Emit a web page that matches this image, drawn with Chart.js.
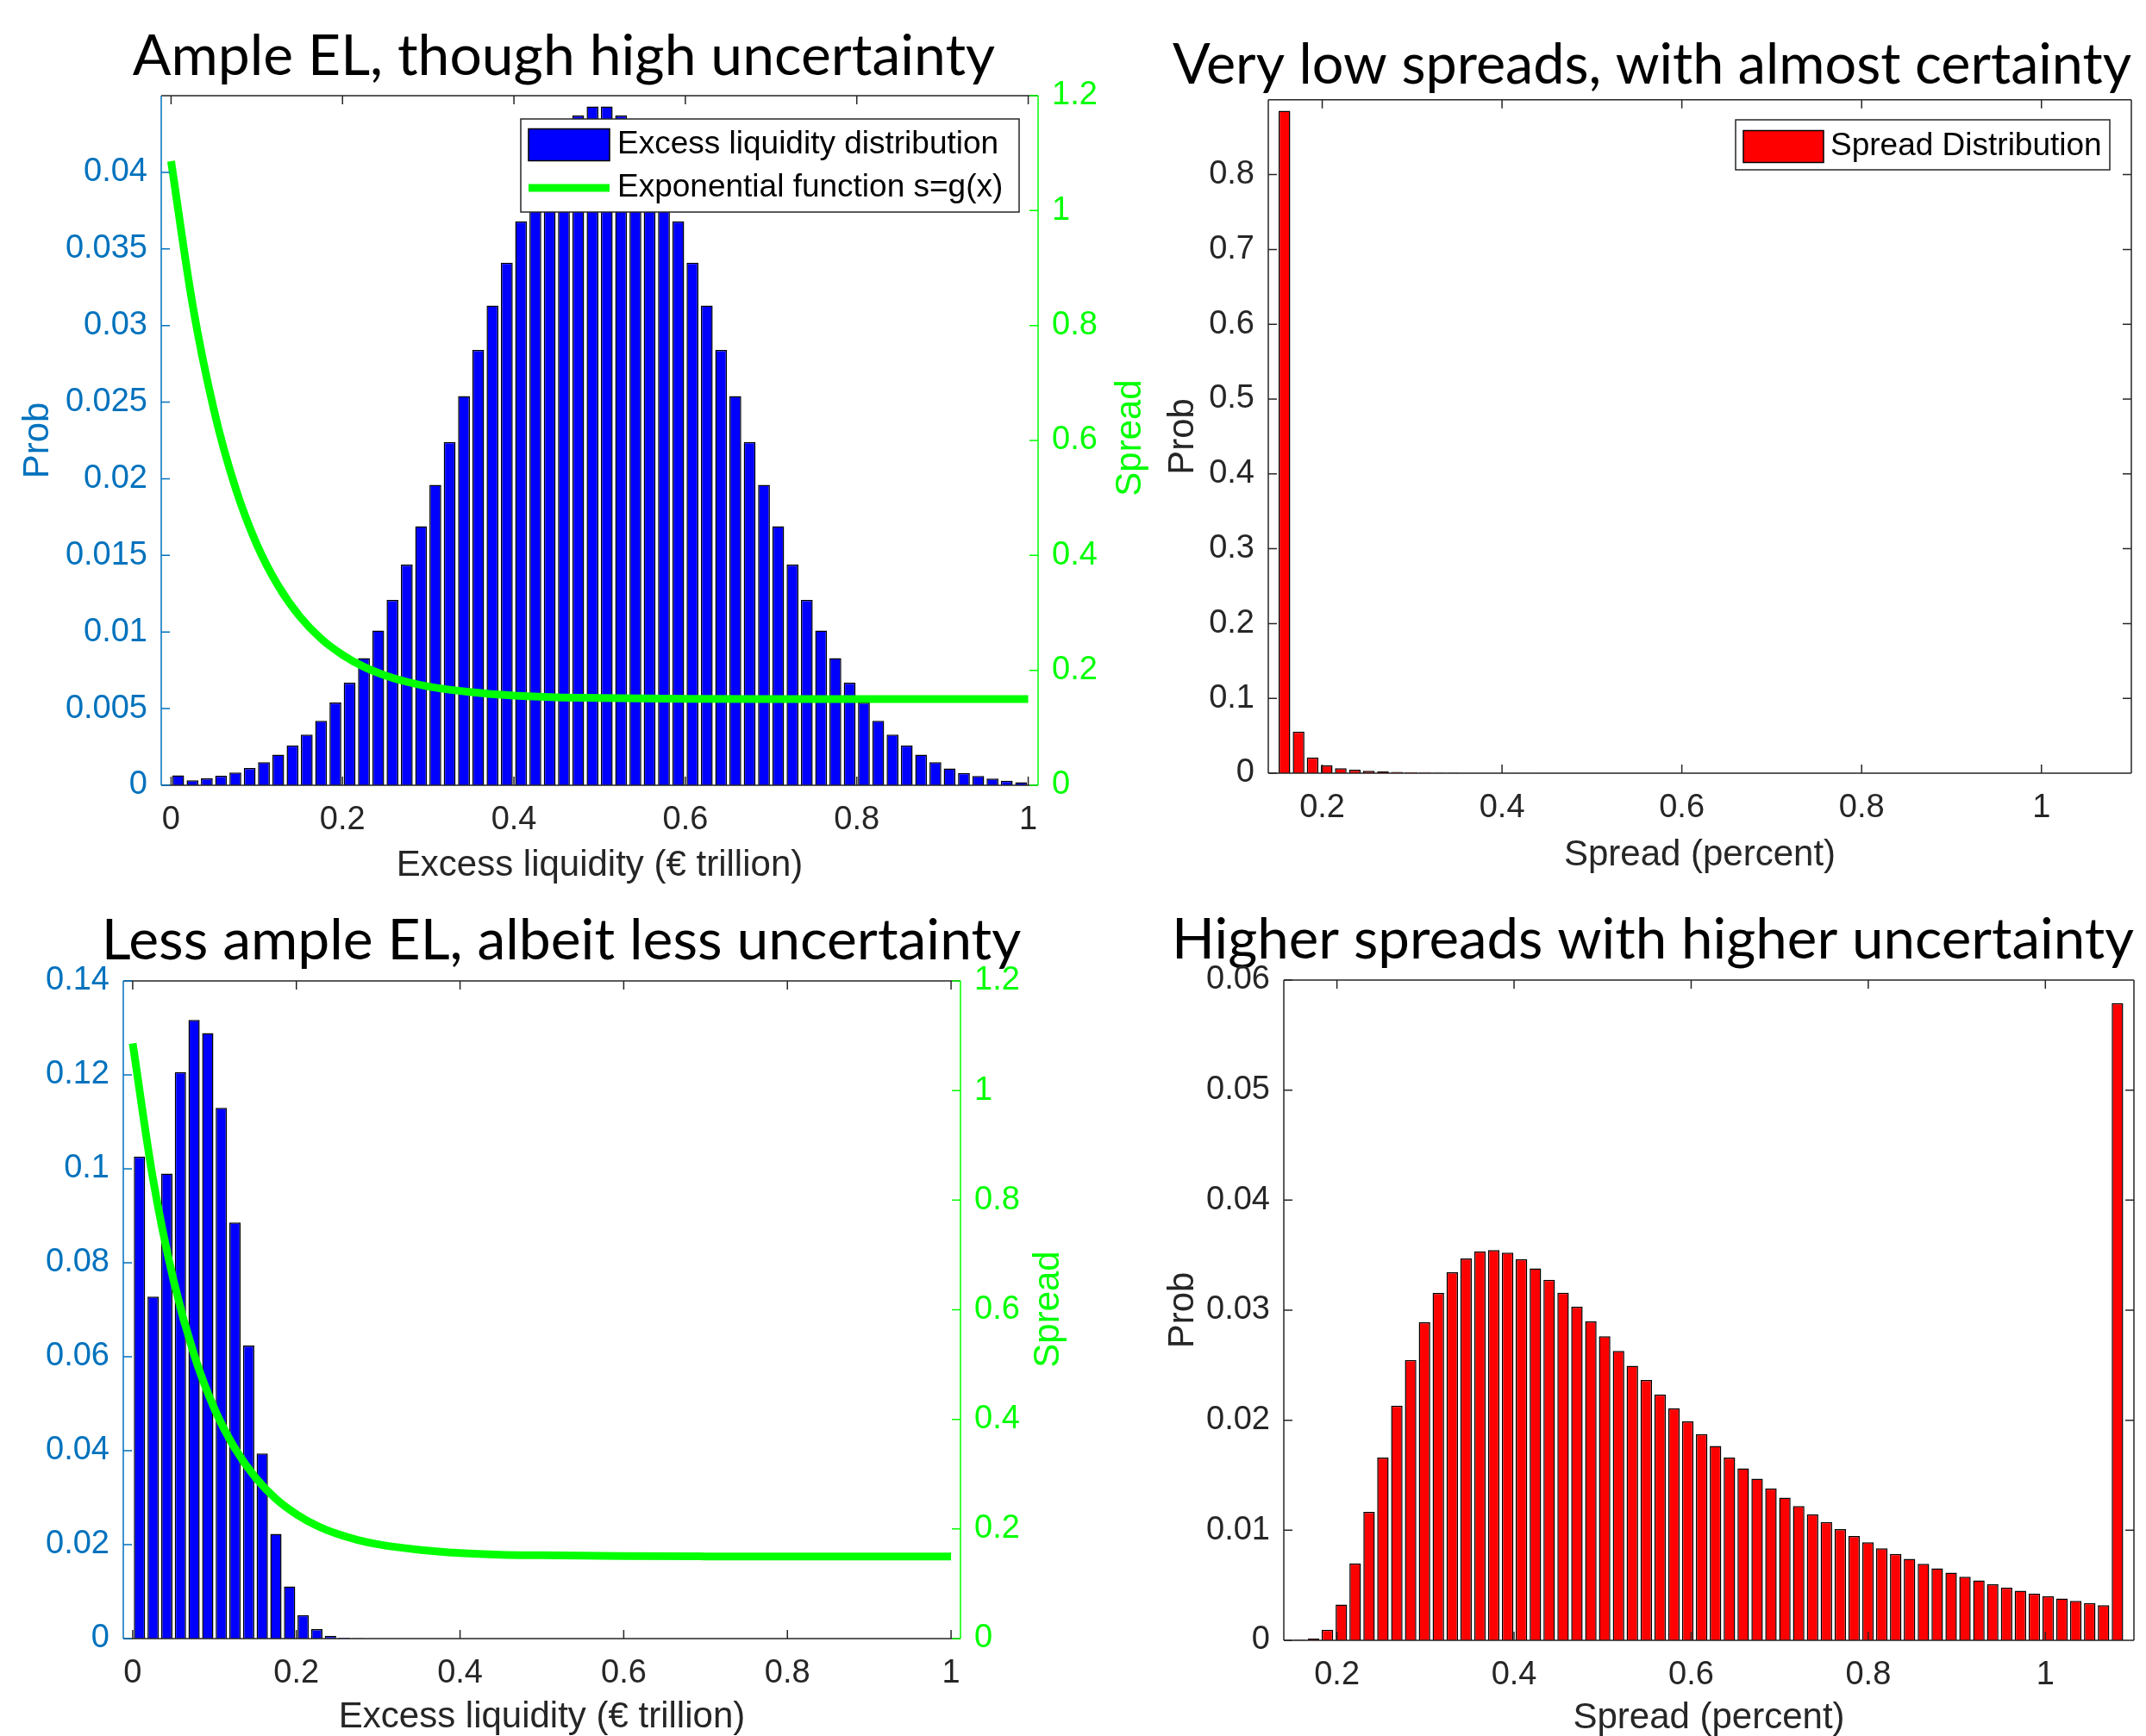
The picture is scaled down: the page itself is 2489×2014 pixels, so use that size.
<!DOCTYPE html>
<html><head><meta charset="utf-8">
<script src="https://cdn.jsdelivr.net/npm/chart.js@4.4.1/dist/chart.umd.min.js"></script>
<style>
html,body{margin:0;padding:0;background:#fff;}
body{width:2489px;height:2014px;position:relative;overflow:hidden;}
canvas{position:absolute;}
</style></head><body>
<canvas id="c1" width="1340" height="1040" style="left:0px;top:0px;width:1340px;height:1040px"></canvas>
<canvas id="c2" width="1149" height="1040" style="left:1340px;top:0px;width:1149px;height:1040px"></canvas>
<canvas id="c3" width="1340" height="974" style="left:0px;top:1040px;width:1340px;height:974px"></canvas>
<canvas id="c4" width="1149" height="974" style="left:1340px;top:1040px;width:1149px;height:974px"></canvas>
<script>
// ---------------- DATA ----------------
// histogram bin centres, excess liquidity (€ trillion)
const elBinCenters = [0.0083,0.0250,0.0417,0.0583,0.0750,0.0917,0.1083,0.1250,0.1417,0.1583,
  0.1750,0.1917,0.2083,0.2250,0.2417,0.2583,0.2750,0.2917,0.3083,0.3250,
  0.3417,0.3583,0.3750,0.3917,0.4083,0.4250,0.4417,0.4583,0.4750,0.4917,
  0.5083,0.5250,0.5417,0.5583,0.5750,0.5917,0.6083,0.6250,0.6417,0.6583,
  0.6750,0.6917,0.7083,0.7250,0.7417,0.7583,0.7750,0.7917,0.8083,0.8250,
  0.8417,0.8583,0.8750,0.8917,0.9083,0.9250,0.9417,0.9583,0.9750,0.9917];
// histogram bin centres, spread (percent)
const spreadBinCenters = [0.1580,0.1737,0.1893,0.2050,0.2206,0.2363,0.2519,0.2676,0.2832,0.2989,
  0.3145,0.3302,0.3458,0.3615,0.3771,0.3928,0.4084,0.4241,0.4397,0.4554,
  0.4710,0.4867,0.5023,0.5180,0.5336,0.5493,0.5649,0.5806,0.5962,0.6119,
  0.6275,0.6432,0.6588,0.6745,0.6901,0.7058,0.7214,0.7371,0.7527,0.7684,
  0.7840,0.7997,0.8153,0.8310,0.8466,0.8623,0.8779,0.8936,0.9092,0.9249,
  0.9405,0.9562,0.9718,0.9875,1.0031,1.0188,1.0344,1.0501,1.0657,1.0814];
// panel 1: ample EL, high uncertainty
const ampleELProb = [0.00064,0.00032,0.00045,0.00062,0.00083,0.00113,0.0015,0.0020,0.0026,0.0033,
  0.0042,0.0054,0.0067,0.0083,0.0101,0.0121,0.0144,0.0169,0.0196,0.0224,
  0.0254,0.0284,0.0313,0.0341,0.0368,0.0390,0.0411,0.0427,0.0437,0.0443,
  0.0443,0.0437,0.0427,0.0411,0.0390,0.0368,0.0341,0.0313,0.0284,0.0254,
  0.0224,0.0196,0.0169,0.0144,0.0121,0.0101,0.0083,0.0067,0.0054,0.0042,
  0.0033,0.0026,0.0020,0.0015,0.0011,0.0008,0.0006,0.00043,0.0003,0.0002];
// panel 2: spreads implied by panel 1
const lowSpreadProb = [0.8855,0.0556,0.0211,0.0107,0.0065,0.0046,0.0031,0.0023,0.0016,0.0012,
  0.0009,0.0007,0.0005,0.0004,0.0003,0.0003,0.0002,0.0002,0.0001,0.0001,
  0.0001,0.0001,0.0001,0.0001,0.0001,0,0,0,0,0,
  0,0,0,0,0,0,0,0,0,0,
  0,0,0,0,0,0,0,0,0,0,
  0,0,0,0,0,0,0,0,0,0];
// panel 3: less ample EL, less uncertainty
const lessAmpleELProb = [0.1026,0.0728,0.0990,0.1206,0.1317,0.1289,0.1130,0.0886,0.0624,0.0394,
  0.0223,0.0111,0.0050,0.0020,0.0006,0.0002,0.0001,0,0,0,
  0,0,0,0,0,0,0,0,0,0,
  0,0,0,0,0,0,0,0,0,0,
  0,0,0,0,0,0,0,0,0,0,
  0,0,0,0,0,0,0,0,0,0];
// panel 4: spreads implied by panel 3
const highSpreadProb = [0.00005,0.00015,0.00096,0.00326,0.0070,0.01167,0.01661,0.02133,0.02547,0.02891,
  0.03156,0.03344,0.03469,0.03534,0.03547,0.03523,0.03464,0.0338,0.03276,0.03159,
  0.03031,0.02898,0.02763,0.0263,0.02495,0.02365,0.02234,0.02109,0.0199,0.01875,
  0.01766,0.01661,0.01563,0.01469,0.0138,0.01297,0.01219,0.01146,0.01076,0.0101,
  0.00948,0.00891,0.00836,0.00786,0.0074,0.00695,0.00654,0.00615,0.00578,0.00544,
  0.0051,0.00479,0.0045,0.00424,0.00401,0.0038,0.00359,0.00339,0.0032,0.0579];
// exponential function s = g(x)
const gX = [0,0.025,0.05,0.075,0.1,0.125,0.15,0.175,0.2,0.225,0.25,0.275,0.3,0.35,0.4,0.45,0.5,0.6,0.7,0.8,0.9,1.0];
const gS = [1.086,0.837,0.653,0.518,0.419,0.347,0.294,0.255,0.227,0.206,0.191,0.180,0.172,0.162,0.156,0.153,0.152,0.1505,0.150,0.150,0.150,0.150];
// tick values
const elXTicks = [0,0.2,0.4,0.6,0.8,1];
const spreadXTicks = [0.2,0.4,0.6,0.8,1];
const p1YTicks = [0,0.005,0.01,0.015,0.02,0.025,0.03,0.035,0.04];
const p2YTicks = [0,0.1,0.2,0.3,0.4,0.5,0.6,0.7,0.8];
const p3YTicks = [0,0.02,0.04,0.06,0.08,0.1,0.12,0.14];
const p4YTicks = [0,0.01,0.02,0.03,0.04,0.05,0.06];
const spreadAxisTicks = [0,0.2,0.4,0.6,0.8,1,1.2];

// ---------------- RENDERING ----------------
Chart.defaults.font.family = "'Liberation Sans', Arial, sans-serif";
Chart.defaults.color = '#262626';

const DARK = '#262626', MBLUE = '#0072BD', GREEN = '#00FF00';
const TICK_SIZE = 38, LABEL_SIZE = 42, TITLE_SIZE = 66, LEGEND_SIZE = 37;

const matlabAxes = {
  id: 'matlabAxes',
  afterDatasetsDraw(chart, args, o) {
    const ctx = chart.ctx, a = chart.chartArea;
    const sx = chart.scales.x, sy = chart.scales.y, sy2 = chart.scales.y2;
    const tl = 10;
    ctx.save();
    ctx.lineWidth = 1.5;
    ctx.strokeStyle = DARK;
    ctx.beginPath();
    ctx.moveTo(a.left, a.bottom); ctx.lineTo(a.right, a.bottom);
    ctx.moveTo(a.left, a.top); ctx.lineTo(a.right, a.top);
    sx.ticks.forEach(t => {
      const p = sx.getPixelForValue(t.value);
      ctx.moveTo(p, a.bottom); ctx.lineTo(p, a.bottom - tl);
      ctx.moveTo(p, a.top); ctx.lineTo(p, a.top + tl);
    });
    if (!sy2) {
      ctx.moveTo(a.right, a.top); ctx.lineTo(a.right, a.bottom);
      sy.ticks.forEach(t => { const p = sy.getPixelForValue(t.value); ctx.moveTo(a.right, p); ctx.lineTo(a.right - tl, p); });
    }
    ctx.stroke();
    ctx.strokeStyle = o.yColor;
    ctx.beginPath();
    ctx.moveTo(a.left, a.top); ctx.lineTo(a.left, a.bottom);
    sy.ticks.forEach(t => { const p = sy.getPixelForValue(t.value); ctx.moveTo(a.left, p); ctx.lineTo(a.left + tl, p); });
    ctx.stroke();
    if (sy2) {
      ctx.strokeStyle = GREEN;
      ctx.beginPath();
      ctx.moveTo(a.right, a.top); ctx.lineTo(a.right, a.bottom);
      sy2.ticks.forEach(t => { const p = sy2.getPixelForValue(t.value); ctx.moveTo(a.right, p); ctx.lineTo(a.right - tl, p); });
      ctx.stroke();
    }
    if (o.rightLabel) {
      ctx.save();
      ctx.translate(o.rightLabel.x, o.rightLabel.y);
      ctx.rotate(-Math.PI / 2);
      ctx.font = LABEL_SIZE + "px 'Liberation Sans'";
      ctx.fillStyle = GREEN; ctx.textAlign = 'center'; ctx.textBaseline = 'middle';
      ctx.fillText(o.rightLabel.text, 0, 0);
      ctx.restore();
    }
    if (o.legend) {
      const L = o.legend;
      ctx.fillStyle = '#ffffff'; ctx.fillRect(L.x, L.y, L.w, L.h);
      ctx.strokeStyle = DARK; ctx.lineWidth = 1.5; ctx.strokeRect(L.x, L.y, L.w, L.h);
      chart.data.datasets.forEach((ds, i) => {
        const ry = L.rows[i];
        if (ds.type === 'bar') {
          ctx.fillStyle = ds.backgroundColor;
          ctx.fillRect(L.sx, ry - L.sh / 2, L.sw, L.sh);
          ctx.strokeStyle = '#000'; ctx.lineWidth = 1.5;
          ctx.strokeRect(L.sx, ry - L.sh / 2, L.sw, L.sh);
        } else {
          ctx.strokeStyle = ds.borderColor; ctx.lineWidth = ds.borderWidth;
          ctx.beginPath(); ctx.moveTo(L.sx, ry); ctx.lineTo(L.sx + L.sw, ry); ctx.stroke();
        }
        ctx.fillStyle = '#000'; ctx.font = LEGEND_SIZE + "px 'Liberation Sans'";
        ctx.textAlign = 'left'; ctx.textBaseline = 'middle';
        ctx.fillText(ds.label, L.tx, ry);
      });
    }
    ctx.restore();
  }
};

function setTicks(arr) { return s => { s.ticks = arr.map(v => ({ value: v })); }; }

function makeChart(id, c) {
  const datasets = [{
    type: 'bar', label: c.barLabel,
    data: c.centers.map((x, i) => ({ x: x, y: c.probs[i] })),
    backgroundColor: c.barColor, borderColor: '#000000', borderWidth: 1.5,
    barPercentage: 0.83, categoryPercentage: 1.0, yAxisID: 'y', order: 2
  }];
  if (c.line) {
    datasets.push({
      type: 'line', label: c.line,
      data: gX.map((x, i) => ({ x: x, y: gS[i] })),
      borderColor: GREEN, borderWidth: 9, pointRadius: 0, fill: false,
      cubicInterpolationMode: 'monotone', yAxisID: 'y2', order: 1
    });
  }
  const scales = {
    x: {
      type: 'linear', min: c.xMin, max: c.xMax, offset: false,
      afterBuildTicks: setTicks(c.xTicks), afterFit: s => { s.height = c.xH; },
      grid: { display: false, drawTicks: false }, border: { display: false },
      ticks: { color: DARK, font: { size: TICK_SIZE }, padding: 18, maxRotation: 0, autoSkip: false, callback: v => String(v) },
      title: { display: true, text: c.xTitle, color: DARK, font: { size: LABEL_SIZE }, padding: { top: 0, bottom: c.xTitlePad - 1.6 } }
    },
    y: {
      type: 'linear', position: 'left', min: 0, max: c.yMax,
      afterBuildTicks: setTicks(c.yTicks), afterFit: s => { s.width = c.yW; },
      grid: { display: false, drawTicks: false }, border: { display: false },
      ticks: { color: c.yColor, font: { size: TICK_SIZE }, padding: 16, autoSkip: false, callback: v => String(v) },
      title: { display: !!c.yTitle, text: c.yTitle || '', color: c.yColor, font: { size: LABEL_SIZE }, padding: { top: (c.yTitlePad || 0) - 0.6, bottom: 0 } }
    }
  };
  if (c.line) {
    scales.y2 = {
      type: 'linear', position: 'right', min: 0, max: 1.2,
      afterBuildTicks: setTicks(spreadAxisTicks), afterFit: s => { s.width = c.y2W; },
      grid: { display: false, drawTicks: false }, border: { display: false },
      ticks: { color: GREEN, font: { size: TICK_SIZE }, padding: 16, autoSkip: false, callback: v => String(v) },
      title: { display: false }
    };
  }
  return new Chart(document.getElementById(id), {
    type: 'bar',
    data: { datasets: datasets },
    options: {
      responsive: false, animation: false, devicePixelRatio: 1,
      layout: { padding: { left: c.padL, right: c.padR, top: 0, bottom: 0 } },
      scales: scales,
      plugins: {
        legend: { display: false }, tooltip: { enabled: false },
        title: { display: true, text: c.title, color: '#000000',
          font: { family: 'Lato', size: TITLE_SIZE, weight: 'normal', lineHeight: 1.2 },
          padding: { top: c.titlePadT - 1.8, bottom: c.titlePadB - 1.8 } },
        matlabAxes: { yColor: c.yColor, rightLabel: c.rightLabel, legend: c.legend }
      }
    },
    plugins: [matlabAxes]
  });
}

makeChart('c1', {
  title: 'Ample EL, though high uncertainty', titlePadT: 28, titlePadB: 7.4,
  centers: elBinCenters, probs: ampleELProb, barColor: '#0000FF',
  barLabel: 'Excess liquidity distribution', line: 'Exponential function s=g(x)',
  xMin: -0.0115, xMax: 1.0115, xTicks: elXTicks, xTitle: 'Excess liquidity (€ trillion)', xH: 129, xTitlePad: 12.4,
  yMax: 0.045, yTicks: p1YTicks, yColor: MBLUE, yTitle: 'Prob', yTitlePad: 19.4, yW: 187, y2W: 104,
  padL: 0, padR: 32,
  rightLabel: { text: 'Spread', x: 1311, y: 508 },
  legend: { x: 604, y: 138, w: 578, h: 108, sx: 613, sw: 94, sh: 37, tx: 716, rows: [168, 218] }
});
makeChart('c2', {
  title: 'Very low spreads, with almost certainty', titlePadT: 38.4, titlePadB: 1.8,
  centers: spreadBinCenters, probs: lowSpreadProb, barColor: '#FF0000',
  barLabel: 'Spread Distribution',
  xMin: 0.14, xMax: 1.1, xTicks: spreadXTicks, xTitle: 'Spread (percent)', xH: 143, xTitlePad: 24.4,
  yMax: 0.9, yTicks: p2YTicks, yColor: DARK, yTitle: 'Prob', yTitlePad: -12.6, yW: 111,
  padL: 20, padR: 17,
  legend: { x: 673, y: 139, w: 434, h: 58, sx: 682, sw: 93, sh: 37, tx: 783, rows: [170] }
});
makeChart('c3', {
  title: 'Less ample EL, albeit less uncertainty', titlePadT: 14.2, titlePadB: 8.2,
  centers: elBinCenters, probs: lessAmpleELProb, barColor: '#0000FF',
  barLabel: 'Excess liquidity distribution', line: 'Exponential function s=g(x)',
  xMin: -0.0115, xMax: 1.0115, xTicks: elXTicks, xTitle: 'Excess liquidity (€ trillion)', xH: 113, xTitlePad: -1.6,
  yMax: 0.14, yTicks: p3YTicks, yColor: MBLUE, yW: 143, y2W: 188,
  padL: 0, padR: 38,
  rightLabel: { text: 'Spread', x: 1216, y: 479 }
});
makeChart('c4', {
  title: 'Higher spreads with higher uncertainty', titlePadT: 13.2, titlePadB: 8.2,
  centers: spreadBinCenters, probs: highSpreadProb, barColor: '#FF0000',
  barLabel: 'Spread Distribution',
  xMin: 0.14, xMax: 1.1, xTicks: spreadXTicks, xTitle: 'Spread (percent)', xH: 111, xTitlePad: -2.6,
  yMax: 0.06, yTicks: p4YTicks, yColor: DARK, yTitle: 'Prob', yTitlePad: -11.6, yW: 130,
  padL: 19, padR: 14
});
</script>
</body></html>
